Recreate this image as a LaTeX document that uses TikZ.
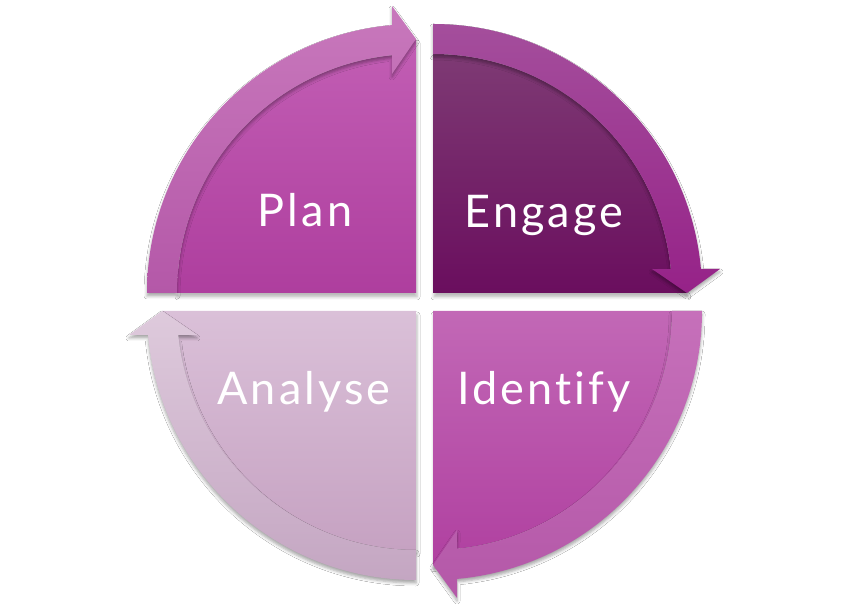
\documentclass[tikz,border=0pt]{standalone}
\usepackage{fontspec}
\setmainfont{Lato}[Ligatures=NoCommon,LetterSpace=7]
\usetikzlibrary{shadows.blur}
\definecolor{planPieT}{HTML}{C25EB4}
\definecolor{planPieB}{HTML}{AE3E9E}
\definecolor{planBandT}{HTML}{C878BC}
\definecolor{planBandB}{HTML}{B458A8}
\definecolor{engPieT}{HTML}{7E3A74}
\definecolor{engPieB}{HTML}{6A0E5E}
\definecolor{engBandT}{HTML}{A44E9C}
\definecolor{engBandB}{HTML}{962288}
\definecolor{idPieT}{HTML}{C268B6}
\definecolor{idPieB}{HTML}{B040A0}
\definecolor{idBandT}{HTML}{C670BA}
\definecolor{idBandB}{HTML}{B458A8}
\definecolor{anPieT}{HTML}{DAC0D8}
\definecolor{anPieB}{HTML}{C6A2C2}
\definecolor{anBandT}{HTML}{DECADC}
\definecolor{anBandB}{HTML}{C4A6C2}
\begin{document}
\begin{tikzpicture}[x=1pt,y=1pt,
  piepath/.style={insert path={(0,0) -- (90:239) arc[start angle=90,end angle=5.76,radius=239] -- (254,0) -- cycle}},
  bandpath/.style={insert path={(90:269) arc[start angle=90,end angle=5.12,radius=269] -- (287,24) -- (254,0) -- (219,24) -- (5.76:239) arc[start angle=5.76,end angle=90,radius=239] -- cycle}},
  qshadow/.style={blur shadow={shadow xshift=1pt,shadow yshift=-4pt,shadow blur radius=3pt,shadow opacity=28}},
  bshadow/.style={blur shadow={shadow xshift=0pt,shadow yshift=-3pt,shadow blur radius=3pt,shadow opacity=35}},
  lbl/.style={text=white,anchor=base,inner sep=0pt,font=\fontsize{45}{50}\selectfont}]
\useasboundingbox (0,0) rectangle (854,611);
\fill[white] (0,0) rectangle (854,611);
% Plan
\begin{scope}[shift={(416,318)},rotate=90]
  \path[qshadow,top color=planPieT,bottom color=planPieB,piepath];
  \path[bshadow,top color=planBandT,bottom color=planBandB,bandpath];
\end{scope}
% Engage
\begin{scope}[shift={(433,318)}]
  \path[qshadow,top color=engPieT,bottom color=engPieB,piepath];
  \path[bshadow,top color=engBandT,bottom color=engBandB,bandpath];
\end{scope}
% Identify
\begin{scope}[shift={(433,300)},rotate=-90]
  \path[qshadow,top color=idPieT,bottom color=idPieB,piepath];
  \path[bshadow,top color=idBandT,bottom color=idBandB,bandpath];
\end{scope}
% Analyse
\begin{scope}[shift={(416,300)},rotate=180]
  \path[qshadow,top color=anPieT,bottom color=anPieB,piepath];
  \path[bshadow,top color=anBandT,bottom color=anBandB,bandpath];
\end{scope}
\node[lbl] (plan) at (305,384) {Plan};
\node[lbl] (engage) at (544,383) {Engage};
\node[lbl] (identify) at (544,206) {Identify};
\node[lbl] (analyse) at (304,206) {Analyse};
\end{tikzpicture}
\end{document}
